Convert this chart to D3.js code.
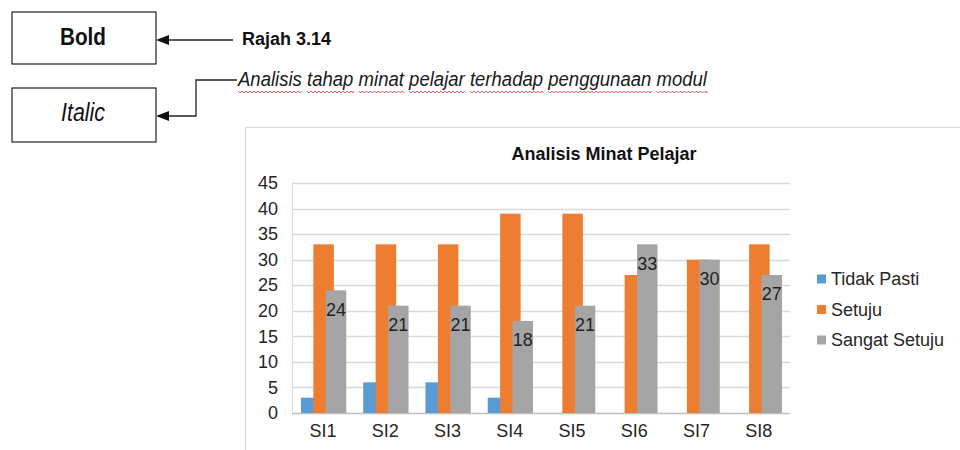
<!DOCTYPE html>
<html>
<head>
<meta charset="utf-8">
<script src="https://cdn.jsdelivr.net/npm/d3@7"></script>
<style>
  body { margin: 0; background: #fff; }
  svg { display: block; font-family: "Liberation Sans", Arial, sans-serif; }
</style>
</head>
<body>
<div id="chart"></div>
<script>
const categories = ["SI1", "SI2", "SI3", "SI4", "SI5", "SI6", "SI7", "SI8"];
const seriesNames = ["Tidak Pasti", "Setuju", "Sangat Setuju"];
const tidakPasti = [3, 6, 6, 3, 0, 0, 0, 0];
const setuju = [33, 33, 33, 39, 39, 27, 30, 33];
const sangatSetuju = [24, 21, 21, 18, 21, 33, 30, 27];
const yTicks = [0, 5, 10, 15, 20, 25, 30, 35, 40, 45];
const colors = ["#5b9bd5", "#ed7d31", "#a5a5a5"];

const W = 960, H = 450;
const svg = d3.select('#chart').append('svg').attr('width', W).attr('height', H);

// ---- annotation boxes on top ----
const ann = svg.append('g');
ann.append('rect').attr('x', 12).attr('y', 12).attr('width', 144).attr('height', 52)
  .attr('fill', '#fff').attr('stroke', '#222').attr('stroke-width', 1.2);
ann.append('text').attr('x', 60).attr('y', 45)
  .attr('font-size', 24).attr('font-weight', 'bold').attr('fill', '#111')
  .attr('textLength', 46).attr('lengthAdjust', 'spacingAndGlyphs').text('Bold');
ann.append('rect').attr('x', 12).attr('y', 88).attr('width', 144).attr('height', 54)
  .attr('fill', '#fff').attr('stroke', '#222').attr('stroke-width', 1.2);
ann.append('text').attr('x', 61).attr('y', 121)
  .attr('font-size', 26).attr('font-style', 'italic').attr('fill', '#111')
  .attr('textLength', 44).attr('lengthAdjust', 'spacingAndGlyphs').text('Italic');

const arrowHead = (x, y) => `M${x},${y} L${x + 13},${y - 5} L${x + 13},${y + 5} Z`;
ann.append('path').attr('d', 'M233,40 L166,40').attr('stroke', '#222').attr('stroke-width', 1.3);
ann.append('path').attr('d', arrowHead(156, 40)).attr('fill', '#111');
ann.append('path').attr('d', 'M237,80 L196,80 L196,116 L166,116')
  .attr('fill', 'none').attr('stroke', '#222').attr('stroke-width', 1.3);
ann.append('path').attr('d', arrowHead(156, 116)).attr('fill', '#111');

ann.append('text').attr('x', 242).attr('y', 45).attr('font-size', 18).attr('font-weight', 'bold')
  .attr('fill', '#111').text('Rajah 3.14');

const sub = ann.append('text').attr('x', 238).attr('y', 86).attr('font-size', 20)
  .attr('font-style', 'italic').attr('fill', '#1a1a1a')
  .attr('textLength', 469).attr('lengthAdjust', 'spacingAndGlyphs')
  .text('Analisis tahap minat pelajar terhadap penggunaan modul');

// red wavy underline under each word
const subText = sub.text();
let pos = 0;
subText.split(' ').forEach(w => {
  const start = subText.indexOf(w, pos);
  pos = start + w.length;
  const x0 = sub.node().getStartPositionOfChar(start).x;
  const x1 = sub.node().getEndPositionOfChar(start + w.length - 1).x;
  let d = `M${x0},91`;
  for (let x = x0, k = 0; x < x1; x += 2, k++) d += ` L${Math.min(x + 2, x1)},${k % 2 ? 91 : 93}`;
  ann.append('path').attr('d', d).attr('fill', 'none').attr('stroke', '#e03030').attr('stroke-width', 0.8);
});

// ---- chart frame ----
svg.append('rect').attr('x', 245.5).attr('y', 127.5).attr('width', 730).attr('height', 340)
  .attr('fill', '#fff').attr('stroke', '#d9d9d9');

const plot = { left: 292, right: 790, top: 183, bottom: 413 };

const x = d3.scaleBand().domain(categories).range([plot.left, plot.right]);
const y = d3.scaleLinear().domain([0, 45]).range([plot.bottom, plot.top]);
const xs = d3.scalePoint().domain(seriesNames).range([-12.4, 12.4]);
const barW = 20.5;

// gridlines
svg.append('g').selectAll('line').data(yTicks).join('line')
  .attr('x1', plot.left).attr('x2', plot.right)
  .attr('y1', d => Math.round(y(d)) + 0.5).attr('y2', d => Math.round(y(d)) + 0.5)
  .attr('stroke', d => d === 0 ? '#bfbfbf' : '#d9d9d9').attr('stroke-width', 1.3);
svg.append('line').attr('x1', plot.left + 0.5).attr('x2', plot.left + 0.5)
  .attr('y1', plot.top).attr('y2', plot.bottom).attr('stroke', '#d9d9d9');

// y axis
const yAxis = svg.append('g').attr('transform', `translate(${plot.left - 14},0)`)
  .call(d3.axisLeft(y).tickValues(yTicks).tickSize(0).tickPadding(0));
yAxis.select('.domain').remove();
yAxis.selectAll('text').attr('font-size', 18).attr('fill', '#262626')
  .attr('font-family', '"Liberation Sans", Arial, sans-serif');

// x axis
const xAxis = svg.append('g').attr('transform', `translate(0,${plot.bottom})`)
  .call(d3.axisBottom(x).tickSize(0).tickPadding(11));
xAxis.select('.domain').remove();
xAxis.selectAll('text').attr('font-size', 18).attr('fill', '#262626')
  .attr('font-family', '"Liberation Sans", Arial, sans-serif');

// bars
const seriesData = [tidakPasti, setuju, sangatSetuju];
seriesData.forEach((vals, si) => {
  const name = seriesNames[si];
  svg.append('g').selectAll('rect').data(vals).join('rect')
    .attr('x', (d, i) => x(categories[i]) + x.bandwidth() / 2 + xs(name) - barW / 2 + 0.5)
    .attr('y', d => y(d))
    .attr('width', barW)
    .attr('height', d => y(0) - y(d))
    .attr('fill', colors[si]);
});

// data labels on Sangat Setuju
svg.append('g').selectAll('text').data(sangatSetuju).join('text')
  .attr('x', (d, i) => x(categories[i]) + x.bandwidth() / 2 + xs('Sangat Setuju') + 0.5)
  .attr('y', d => y(d) + 19)
  .attr('dy', '0.35em')
  .attr('text-anchor', 'middle')
  .attr('font-size', 18)
  .attr('fill', '#1f1f1f')
  .text(d => d);

// title
svg.append('text').attr('x', 604).attr('y', 154).attr('dy', '0.35em').attr('text-anchor', 'middle')
  .attr('font-size', 18).attr('font-weight', 'bold').attr('fill', '#111')
  .text('Analisis Minat Pelajar');

// legend
const lg = svg.append('g').selectAll('g').data(seriesNames).join('g')
  .attr('transform', (d, i) => `translate(817,${279 + i * 30.5})`);
lg.append('rect').attr('x', 0).attr('y', -4.5).attr('width', 9).attr('height', 9)
  .attr('fill', (d, i) => colors[i]);
lg.append('text').attr('x', 14).attr('dy', '0.35em').attr('font-size', 18).attr('fill', '#262626')
  .text(d => d);
</script>
</body>
</html>
